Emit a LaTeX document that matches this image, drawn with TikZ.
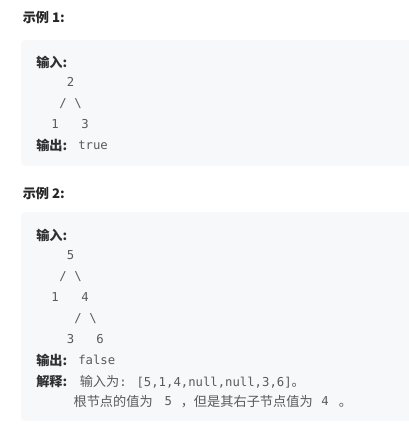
\documentclass[tikz,border=0pt]{standalone}
\usepackage{fontspec}
\newfontfamily\cjkfam{Noto Sans CJK SC}
\newfontfamily\monofam{DejaVu Sans Mono}
\newcommand\cjkfs{\cjkfam\fontsize{9.9pt}{12pt}\selectfont}
\newcommand\monofs{\monofam\fontsize{9.2pt}{11pt}\selectfont}
\definecolor{headc}{HTML}{262626}
\definecolor{labc}{HTML}{303030}
\definecolor{codec}{HTML}{5A5A5A}
\definecolor{boxbg}{HTML}{F7F8FA}
\tikzset{
  heading/.style={anchor=base west, inner sep=0pt, font=\cjkfs\bfseries, text=headc},
  label/.style={anchor=base west, inner sep=0pt, font=\cjkfs\bfseries, text=labc},
  code/.style={anchor=base, inner sep=0pt, font=\monofs, text=codec},
  codew/.style={code, anchor=base west},
  cjktext/.style={anchor=base west, inner sep=0pt, font=\cjkfs, text=codec},
  panel/.style={fill=boxbg, draw=none, rounded corners=3pt}
}
\begin{document}
\begin{tikzpicture}[x=0.75pt,y=-0.75pt]
\useasboundingbox (0,0) rectangle (408,436);
\fill[white] (0,0) rectangle (408,436);

% Example 1
\node[heading] (h1) at (22.5,22) {示例 1:};
\path[panel] (21,40) rectangle (414,165.7);
\node[label] (in1) at (36,67) {输入:};
\node[code] (a2) at (70.5,86.5) {2};
\node[code] (s1) at (63,107.5) {/};
\node[code] (b1) at (78,107.5) {\textbackslash};
\node[code] (a1) at (55,128.5) {1};
\node[code] (a3) at (85,128.5) {3};
\node[label] (out1) at (36,150) {输出:};
\node[codew] (t1) at (78,149.5) {true};

% Example 2
\node[heading] (h2) at (22.5,198) {示例 2:};
\path[panel] (21,212) rectangle (414,421);
\node[label] (in2) at (36,240) {输入:};
\node[code] (c5) at (70.5,259.5) {5};
\node[code] (s2) at (63,280) {/};
\node[code] (b2) at (78,280) {\textbackslash};
\node[code] (c1) at (55,301) {1};
\node[code] (c4) at (85,301) {4};
\node[code] (s3) at (78,322) {/};
\node[code] (b3) at (93,322) {\textbackslash};
\node[code] (c3) at (70.5,343) {3};
\node[code] (c6) at (100,343) {6};
\node[label] (out2) at (36,365) {输出:};
\node[codew] (f2) at (78,364.5) {false};
\node[label] (ex2) at (36,386) {解释:};
\node[cjktext] (e1) at (79.5,386) {输入为\monofs: [5,1,4,null,null,3,6]\cjkfs 。};
\node[cjktext] (e2a) at (73.3,406) {根节点的值为};
\node[code] (e2b) at (168.3,405.5) {5};
\node[cjktext] (e2c) at (180.5,406) {，但是其右子节点值为};
\node[code] (e2d) at (325,405.5) {4};
\node[cjktext] (e2e) at (338.7,406) {。};
\end{tikzpicture}
\end{document}
